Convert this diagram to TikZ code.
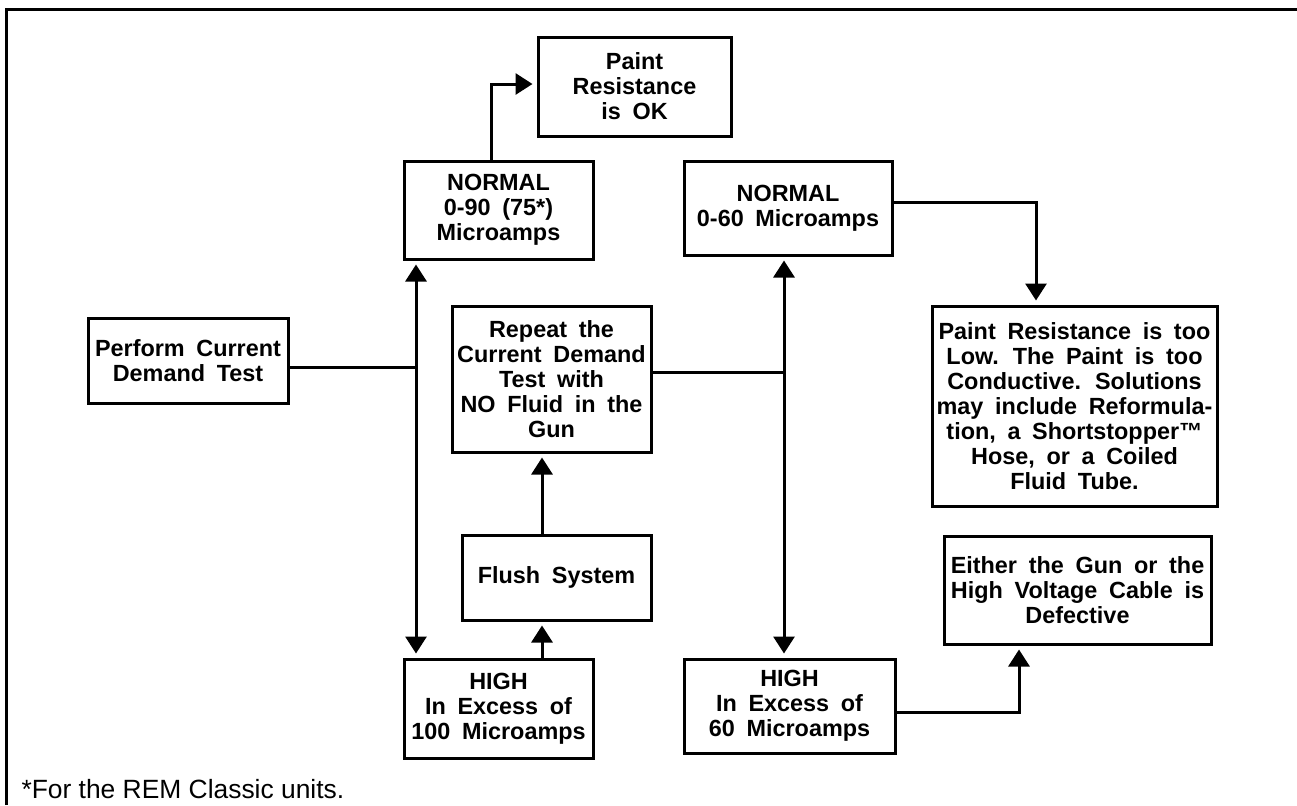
\documentclass[tikz,border=0pt]{standalone}
\usepackage{fontspec}
\setmainfont{Liberation Sans}
\usetikzlibrary{arrows.meta}
\newcommand\boxfont{\bfseries\fontsize{11.7}{12.5}\selectfont\spaceskip=0.5em\relax}

\begin{document}
\begin{tikzpicture}[x=0.5pt, y=-0.5pt, line width=1.5pt,
                  >={Triangle[width=10.5pt,length=8.5pt]},
                  box/.style={draw, align=center, inner sep=0pt, font=\boxfont},
                  link/.style={->, shorten >=2pt},
                  twoway/.style={<->, shorten >=2pt, shorten <=2pt}]

                  \useasboundingbox (0,0) rectangle (1297,805);
                  \draw (6,805) -- (6,9) -- (1297,9);

                  % The boxes of the chart.
                  \node[box, minimum width=96.5pt, minimum height=49.5pt] (pok) at (634.5,86.5)
                  {Paint\\Resistance\\is OK};
                  \node[box, minimum width=94.5pt, minimum height=49pt] (n90) at (498.5,210)
                  {NORMAL\\0-90 (75*)\\Microamps};
                  \node[box, minimum width=104pt, minimum height=47pt] (n60) at (788,208)
                  {NORMAL\\0-60 Microamps};
                  \node[box, minimum width=100pt, minimum height=42.5pt] (perform) at (188,360.5)
                  {Perform Current\\Demand Test};
                  \node[box, minimum width=99.5pt, minimum height=73pt] (rep) at (551.5,379)
                  {Repeat the\\Current Demand\\Test with\\NO Fluid in the\\Gun};
                  \node[box, minimum width=142.5pt, minimum height=100pt] (low) at (1074.5,406)
                  {Paint Resistance is too\\Low. The Paint is too\\Conductive. Solutions\\
                  may include Reformula-\\tion, a Shortstopper™\\Hose, or a Coiled\\Fluid Tube.};
                  \node[box, minimum width=94.5pt, minimum height=42.5pt] (flush) at (556.5,577.5)
                  {Flush System};
                  \node[box, minimum width=133.5pt, minimum height=54pt] (either) at (1077.5,590)
                  {Either the Gun or the\\High Voltage Cable is\\Defective};
                  \node[box, minimum width=94.5pt, minimum height=49.5pt] (h100) at (498.5,708.5)
                  {HIGH\\In Excess of\\100 Microamps};
                  \node[box, minimum width=105.5pt, minimum height=47pt] (h60) at (789.5,706)
                  {HIGH\\In Excess of\\60 Microamps};
                  \node[anchor=base west, inner sep=0pt, font=\fontsize{13.2}{14}\selectfont]
                  (note) at (20,798) {*For the REM Classic units.};

                  % The bends and junctions of the lines.
                  \coordinate (c1) at (491,84);
                  \coordinate (j1) at (416,367);
                  \coordinate (j2) at (784,372);
                  \coordinate (c2) at (542,0);
                  \coordinate (c3) at (1036,202);
                  \coordinate (c4) at (1019,712);

                  % The lines between the boxes.
                  \draw[link] (n90.north -| c1) -- (c1) -- (pok.west |- c1);
                  \draw (perform.east |- j1) -- (j1);
                  \draw[twoway] (n90.south -| j1) -- (h100.north -| j1);
                  \draw (rep.east |- j2) -- (j2);
                  \draw[twoway] (n60.south -| j2) -- (h60.north -| j2);
                  \draw[link] (h100.north -| c2) -- (flush.south -| c2);
                  \draw[link] (flush.north -| c2) -- (rep.south -| c2);
                  \draw[link] (n60.east |- c3) -- (c3) -- (low.north -| c3);
                  \draw[link] (h60.east |- c4) -- (c4) -- (either.south -| c4);

                \end{tikzpicture}
\end{document}
